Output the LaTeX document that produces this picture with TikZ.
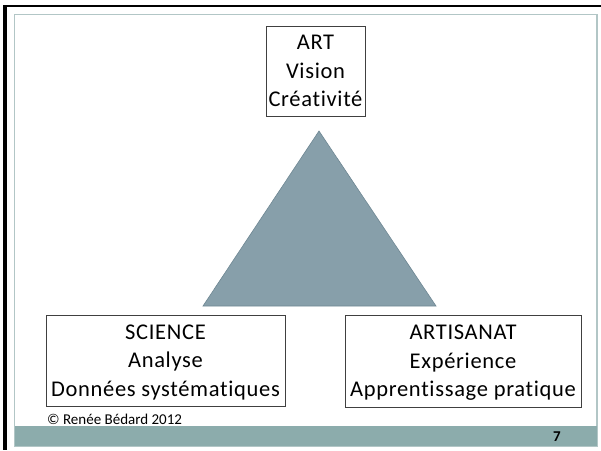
\documentclass[tikz,border=0pt]{standalone}
\usepackage{fontspec}
\setmainfont{Carlito}[RawFeature=-liga]
\newfontfamily\polefont{Carlito}[LetterSpace=3, RawFeature=-liga]
\usepackage{tikz}
\usetikzlibrary{positioning}
\definecolor{barteal}{RGB}{140,172,172}
\definecolor{frameline}{RGB}{178,198,198}
\definecolor{trifill}{RGB}{135,159,170}
\definecolor{triline}{RGB}{110,135,147}
\tikzset{
x=1pt, y=-1pt, % pixel units, y going down
pole/.style={draw=black!75, line width=0.8pt, fill=white, align=center, inner sep=0pt,
  text depth=0pt, font=\polefont\fontsize{22.5}{28.5}\selectfont}, % the three boxes
}

\begin{document}
\begin{tikzpicture}
            \useasboundingbox (0,0) rectangle (601,450);
            % slide frame
            \fill[black] (3,5) rectangle (7,450);
            \fill[black] (3,4.5) rectangle (601,7);
            \draw[frameline, line width=1.2pt] (14.5,14.5) rectangle (597,446);
            \fill[barteal] (14.5,426) rectangle (597,446);
            % triangle
            \filldraw[fill=trifill, draw=triline, line width=0.6pt] (319,131) -- (436,306) -- (203,306) -- cycle;
            % boxes
            \node[pole, minimum width=99pt, minimum height=90pt] (art) at (315.5,71) {ART\\Vision\\Créativité};
            \node[pole, minimum width=239pt, minimum height=91pt] (science) at (165.5,360.5) {SCIENCE\\Analyse\\Données systématiques};
            \node[pole, minimum width=236pt, minimum height=92pt] (artisanat) at (463,361) {ARTISANAT\\Expérience\\Apprentissage pratique};
            % footer
            \node[anchor=west, inner sep=0pt, font=\fontsize{15}{16}\selectfont] (copy) at (47,419) {© Renée Bédard 2012};
            \node[inner sep=0pt, font=\bfseries\fontsize{15}{16}\selectfont] (page) at (557,437) {7};
        \end{tikzpicture}
\end{document}
